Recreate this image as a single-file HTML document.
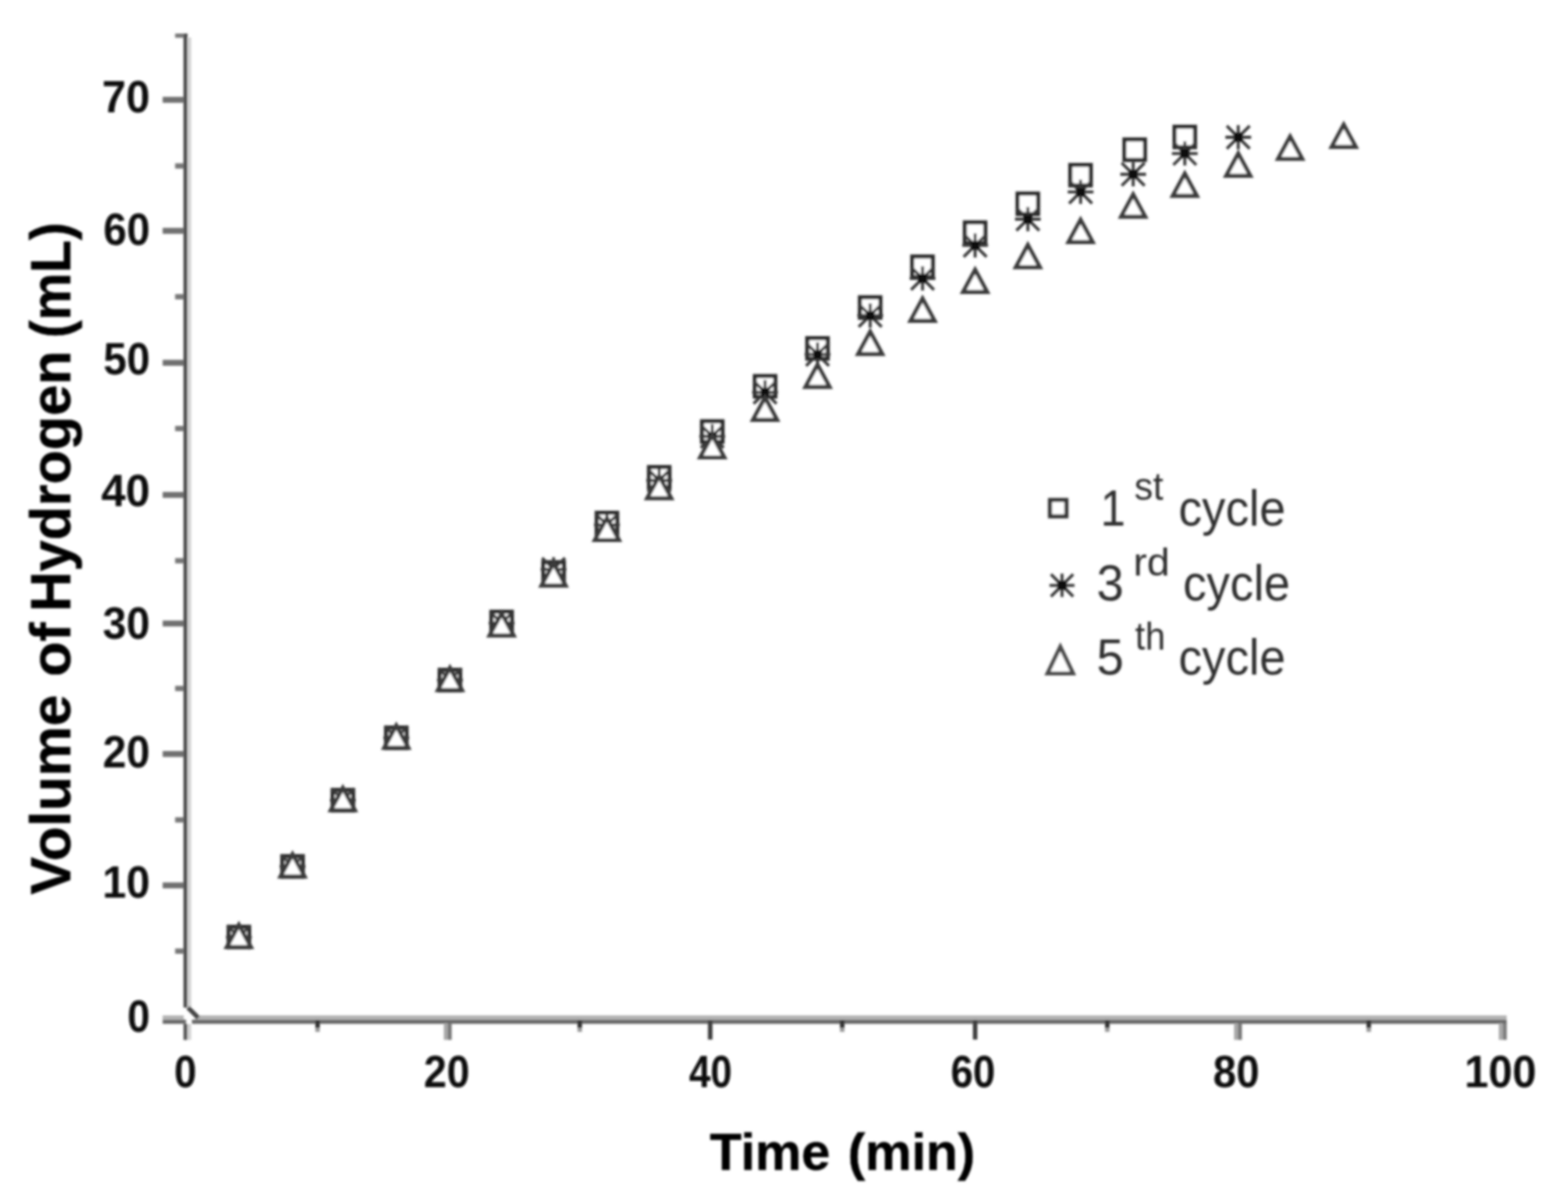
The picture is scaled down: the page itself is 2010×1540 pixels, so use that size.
<!DOCTYPE html>
<html lang="en"><head><meta charset="utf-8"><title>Volume of Hydrogen vs Time</title>
<style>
html,body{margin:0;padding:0;background:#fff;}
body{width:2010px;height:1540px;overflow:hidden;}
svg{display:block;}
text{font-family:"Liberation Sans",Arial,Helvetica,sans-serif;}
#ticklabels text{fill:#0a0a0a;}
#titles text{fill:#000;stroke:#000;stroke-width:0.5px;}
#legend text{fill:#2e2e2e;}
</style></head><body>
<svg width="2010" height="1540" viewBox="0 0 2010 1540" role="img" aria-label="Volume of Hydrogen (mL) versus Time (min) for the 1st, 3rd and 5th cycle">
<defs><filter id="soft" x="0" y="0" width="2010" height="1540" filterUnits="userSpaceOnUse"><feGaussianBlur stdDeviation="1.7"/></filter></defs>
<rect width="2010" height="1540" fill="#fff"/>
<g filter="url(#soft)">
<g id="axes">
<rect x="235.2" y="43" width="5.2" height="1249" fill="#4a4a4a"/>
<rect x="240.4" y="48" width="4.8" height="1244" fill="#d4d4d4"/>
<rect x="235.2" y="1313" width="5.2" height="20.5" fill="#555"/>
<rect x="240.4" y="1313" width="4.8" height="20.5" fill="#d4d4d4"/>
<rect x="250" y="1302" width="1681.4" height="5.5" fill="#b2b2b2"/>
<rect x="246" y="1307.5" width="1685.4" height="5.3" fill="#686868"/>
<rect x="208.5" y="1302" width="27" height="5.5" fill="#b2b2b2"/>
<rect x="208.5" y="1307.5" width="30" height="5.3" fill="#686868"/>
<path d="M241 1292L254 1305" stroke="#444" stroke-width="6" fill="none"/>
<rect x="224.5" y="43" width="11" height="5.4" fill="#777"/>
<rect x="208.5" y="124.2" width="27" height="7.6" fill="#707070"/>
<rect x="224.5" y="209.4" width="11" height="6.8" fill="#777"/>
<rect x="208.5" y="292.2" width="27" height="7.6" fill="#707070"/>
<rect x="224.5" y="377.1" width="11" height="6.8" fill="#777"/>
<rect x="208.5" y="461.4" width="27" height="7.6" fill="#707070"/>
<rect x="224.5" y="546.1" width="11" height="6.8" fill="#777"/>
<rect x="208.5" y="630.8" width="27" height="7.6" fill="#707070"/>
<rect x="224.5" y="715.6" width="11" height="6.8" fill="#777"/>
<rect x="208.5" y="795.7" width="27" height="7.6" fill="#707070"/>
<rect x="224.5" y="879.4" width="11" height="6.8" fill="#777"/>
<rect x="208.5" y="963.0" width="27" height="7.6" fill="#707070"/>
<rect x="224.5" y="1047.9" width="11" height="6.8" fill="#777"/>
<rect x="208.5" y="1131.5" width="27" height="7.6" fill="#707070"/>
<rect x="224.5" y="1216.2" width="11" height="6.8" fill="#777"/>
<rect x="404.2" y="1308" width="5.8" height="10.4" fill="#303030"/>
<rect x="404.2" y="1318.4" width="5.8" height="4.8" fill="#999"/>
<rect x="568.9" y="1312" width="5.1" height="21.4" fill="#a8a8a8"/>
<rect x="574.0" y="1312" width="5.1" height="21.4" fill="#7a7a7a"/>
<rect x="740.3" y="1308" width="5.8" height="10.4" fill="#303030"/>
<rect x="740.3" y="1318.4" width="5.8" height="4.8" fill="#999"/>
<rect x="907.5" y="1308" width="5.8" height="25" fill="#3c3c3c"/>
<rect x="1076.7" y="1308" width="5.8" height="10.4" fill="#303030"/>
<rect x="1076.7" y="1318.4" width="5.8" height="4.8" fill="#999"/>
<rect x="1247.1" y="1308" width="5.8" height="25" fill="#3c3c3c"/>
<rect x="1416.5" y="1308" width="5.8" height="10.4" fill="#303030"/>
<rect x="1416.5" y="1318.4" width="5.8" height="4.8" fill="#999"/>
<rect x="1581.9" y="1312" width="5.1" height="21.4" fill="#a8a8a8"/>
<rect x="1587.0" y="1312" width="5.1" height="21.4" fill="#7a7a7a"/>
<rect x="1751.7" y="1308" width="5.8" height="10.4" fill="#303030"/>
<rect x="1751.7" y="1318.4" width="5.8" height="4.8" fill="#999"/>
<rect x="1921.3" y="1312" width="5.1" height="21.4" fill="#a8a8a8"/>
<rect x="1926.4" y="1312" width="5.1" height="21.4" fill="#7a7a7a"/>
</g>
<g id="ticklabels">
<text transform="translate(130.84 144.40) scale(0.9213 0.9600)" font-size="60" font-weight="bold">70</text>
<text transform="translate(132.61 314.20) scale(0.8935 0.9600)" font-size="60" font-weight="bold">60</text>
<text transform="translate(132.61 479.60) scale(0.8935 0.9600)" font-size="60" font-weight="bold">50</text>
<text transform="translate(129.66 649.00) scale(0.9397 0.9600)" font-size="60" font-weight="bold">40</text>
<text transform="translate(131.79 819.00) scale(0.9065 0.9600)" font-size="60" font-weight="bold">30</text>
<text transform="translate(131.79 984.40) scale(0.9065 0.9600)" font-size="60" font-weight="bold">20</text>
<text transform="translate(131.13 1151.00) scale(0.9167 0.9600)" font-size="60" font-weight="bold">10</text>
<text transform="translate(163.26 1323.40) scale(0.8690 0.9600)" font-size="60" font-weight="bold">0</text>
<text transform="translate(223.18 1394.00) scale(0.8621 0.9500)" font-size="60" font-weight="bold">0</text>
<text transform="translate(543.34 1394.00) scale(0.8806 0.9500)" font-size="60" font-weight="bold">20</text>
<text transform="translate(883.17 1394.00) scale(0.8286 0.9500)" font-size="60" font-weight="bold">40</text>
<text transform="translate(1218.79 1394.00) scale(0.8565 0.9500)" font-size="60" font-weight="bold">60</text>
<text transform="translate(1555.02 1394.00) scale(0.8903 0.9500)" font-size="60" font-weight="bold">80</text>
<text transform="translate(1877.31 1394.00) scale(0.9213 0.9500)" font-size="60" font-weight="bold">100</text>
</g>
<g id="titles">
<text transform="translate(910.02 1500.00) scale(0.9805 0.9700)" font-size="68" font-weight="bold">Time</text>
<text transform="translate(1086.65 1500.00) scale(0.9838 0.9700)" font-size="68" font-weight="bold">(min)</text>
<text transform="translate(89.90 1147.21) rotate(-90) scale(1.0076 1.0000)" font-size="72" font-weight="bold">Volume</text>
<text transform="translate(89.90 867.87) rotate(-90) scale(1.0246 1.0000)" font-size="72" font-weight="bold">of</text>
<text transform="translate(89.90 784.48) rotate(-90) scale(0.9969 1.0000)" font-size="72" font-weight="bold">Hydrogen</text>
<text transform="translate(89.90 433.61) rotate(-90) scale(0.9527 1.0000)" font-size="72" font-weight="bold">(mL)</text>
</g>
<g id="series-1st-cycle">
<rect x="293.1" y="1188.4" width="26.3" height="26.3" fill="#fff" stroke="#2a2a2a" stroke-width="5.2"/>
<rect x="361.9" y="1097.8" width="26.3" height="26.3" fill="#fff" stroke="#2a2a2a" stroke-width="5.2"/>
<rect x="426.4" y="1012.9" width="26.3" height="26.3" fill="#fff" stroke="#2a2a2a" stroke-width="5.2"/>
<rect x="494.9" y="932.9" width="26.3" height="26.3" fill="#fff" stroke="#2a2a2a" stroke-width="5.2"/>
<rect x="563.6" y="858.9" width="26.3" height="26.3" fill="#fff" stroke="#2a2a2a" stroke-width="5.2"/>
<rect x="629.9" y="784.4" width="26.3" height="26.3" fill="#fff" stroke="#2a2a2a" stroke-width="5.2"/>
<rect x="696.5" y="720.9" width="26.3" height="26.3" fill="#fff" stroke="#2a2a2a" stroke-width="5.2"/>
<rect x="764.9" y="657.5" width="26.3" height="26.3" fill="#fff" stroke="#2a2a2a" stroke-width="5.2"/>
<rect x="831.9" y="598.9" width="26.3" height="26.3" fill="#fff" stroke="#2a2a2a" stroke-width="5.2"/>
<rect x="899.9" y="540.2" width="26.3" height="26.3" fill="#fff" stroke="#2a2a2a" stroke-width="5.2"/>
<rect x="967.6" y="482.2" width="26.3" height="26.3" fill="#fff" stroke="#2a2a2a" stroke-width="5.2"/>
<rect x="1034.8" y="433.6" width="26.3" height="26.3" fill="#fff" stroke="#2a2a2a" stroke-width="5.2"/>
<rect x="1102.3" y="381.2" width="26.3" height="26.3" fill="#fff" stroke="#2a2a2a" stroke-width="5.2"/>
<rect x="1169.4" y="328.9" width="26.3" height="26.3" fill="#fff" stroke="#2a2a2a" stroke-width="5.2"/>
<rect x="1236.8" y="285.2" width="26.3" height="26.3" fill="#fff" stroke="#2a2a2a" stroke-width="5.2"/>
<rect x="1304.4" y="248.2" width="26.3" height="26.3" fill="#fff" stroke="#2a2a2a" stroke-width="5.2"/>
<rect x="1372.0" y="211.5" width="26.3" height="26.3" fill="#fff" stroke="#2a2a2a" stroke-width="5.2"/>
<rect x="1441.4" y="178.8" width="26.3" height="26.3" fill="#fff" stroke="#2a2a2a" stroke-width="5.2"/>
<rect x="1505.6" y="162.5" width="26.3" height="26.3" fill="#fff" stroke="#2a2a2a" stroke-width="5.2"/>
</g>
<g id="series-3rd-cycle">
<g stroke="#383838" stroke-width="3.8" fill="none"><path d="M306.2 1186.1V1217.1M289.7 1201.6H322.7M291.5 1186.9L320.9 1216.3M291.5 1216.3L320.9 1186.9"/><rect x="300.7" y="1196.1" width="11" height="11" fill="#0c0c0c" stroke="none"/></g>
<g stroke="#383838" stroke-width="3.8" fill="none"><path d="M375.0 1095.5V1126.5M358.5 1111.0H391.5M360.3 1096.3L389.7 1125.7M360.3 1125.7L389.7 1096.3"/><rect x="369.5" y="1105.5" width="11" height="11" fill="#0c0c0c" stroke="none"/></g>
<g stroke="#383838" stroke-width="3.8" fill="none"><path d="M439.5 1010.5V1041.5M423.0 1026.0H456.0M424.8 1011.3L454.2 1040.7M424.8 1040.7L454.2 1011.3"/><rect x="434.0" y="1020.5" width="11" height="11" fill="#0c0c0c" stroke="none"/></g>
<g stroke="#383838" stroke-width="3.8" fill="none"><path d="M508.0 930.5V961.5M491.5 946.0H524.5M493.3 931.3L522.7 960.7M493.3 960.7L522.7 931.3"/><rect x="502.5" y="940.5" width="11" height="11" fill="#0c0c0c" stroke="none"/></g>
<g stroke="#383838" stroke-width="3.8" fill="none"><path d="M576.8 856.5V887.5M560.3 872.0H593.3M562.1 857.3L591.5 886.7M562.1 886.7L591.5 857.3"/><rect x="571.3" y="866.5" width="11" height="11" fill="#0c0c0c" stroke="none"/></g>
<g stroke="#383838" stroke-width="3.8" fill="none"><path d="M643.0 783.5V814.5M626.5 799.0H659.5M628.3 784.3L657.7 813.7M628.3 813.7L657.7 784.3"/><rect x="637.5" y="793.5" width="11" height="11" fill="#0c0c0c" stroke="none"/></g>
<g stroke="#383838" stroke-width="3.8" fill="none"><path d="M709.6 714.5V745.5M693.1 730.0H726.1M694.9 715.3L724.3 744.7M694.9 744.7L724.3 715.3"/><rect x="704.1" y="724.5" width="11" height="11" fill="#0c0c0c" stroke="none"/></g>
<g stroke="#383838" stroke-width="3.8" fill="none"><path d="M778.0 657.5V688.5M761.5 673.0H794.5M763.3 658.3L792.7 687.7M763.3 687.7L792.7 658.3"/><rect x="772.5" y="667.5" width="11" height="11" fill="#0c0c0c" stroke="none"/></g>
<g stroke="#383838" stroke-width="3.8" fill="none"><path d="M845.0 600.5V631.5M828.5 616.0H861.5M830.3 601.3L859.7 630.7M830.3 630.7L859.7 601.3"/><rect x="839.5" y="610.5" width="11" height="11" fill="#0c0c0c" stroke="none"/></g>
<g stroke="#383838" stroke-width="3.8" fill="none"><path d="M913.0 544.0V575.0M896.5 559.5H929.5M898.3 544.8L927.7 574.2M898.3 574.2L927.7 544.8"/><rect x="907.5" y="554.0" width="11" height="11" fill="#0c0c0c" stroke="none"/></g>
<g stroke="#383838" stroke-width="3.8" fill="none"><path d="M980.7 487.5V518.5M964.2 503.0H997.2M966.0 488.3L995.4 517.7M966.0 517.7L995.4 488.3"/><rect x="975.2" y="497.5" width="11" height="11" fill="#0c0c0c" stroke="none"/></g>
<g stroke="#383838" stroke-width="3.8" fill="none"><path d="M1048.0 438.9V469.9M1031.5 454.4H1064.5M1033.3 439.7L1062.7 469.1M1033.3 469.1L1062.7 439.7"/><rect x="1042.5" y="448.9" width="11" height="11" fill="#0c0c0c" stroke="none"/></g>
<g stroke="#383838" stroke-width="3.8" fill="none"><path d="M1115.5 389.0V420.0M1099.0 404.5H1132.0M1100.8 389.8L1130.2 419.2M1100.8 419.2L1130.2 389.8"/><rect x="1110.0" y="399.0" width="11" height="11" fill="#0c0c0c" stroke="none"/></g>
<g stroke="#383838" stroke-width="3.8" fill="none"><path d="M1182.6 341.5V372.5M1166.1 357.0H1199.1M1167.9 342.3L1197.3 371.7M1167.9 371.7L1197.3 342.3"/><rect x="1177.1" y="351.5" width="11" height="11" fill="#0c0c0c" stroke="none"/></g>
<g stroke="#383838" stroke-width="3.8" fill="none"><path d="M1250.0 299.2V330.2M1233.5 314.7H1266.5M1235.3 300.0L1264.7 329.4M1235.3 329.4L1264.7 300.0"/><rect x="1244.5" y="309.2" width="11" height="11" fill="#0c0c0c" stroke="none"/></g>
<g stroke="#383838" stroke-width="3.8" fill="none"><path d="M1317.6 265.5V296.5M1301.1 281.0H1334.1M1302.9 266.3L1332.3 295.7M1302.9 295.7L1332.3 266.3"/><rect x="1312.1" y="275.5" width="11" height="11" fill="#0c0c0c" stroke="none"/></g>
<g stroke="#383838" stroke-width="3.8" fill="none"><path d="M1385.2 230.6V261.6M1368.7 246.1H1401.7M1370.5 231.4L1399.9 260.8M1370.5 260.8L1399.9 231.4"/><rect x="1379.7" y="240.6" width="11" height="11" fill="#0c0c0c" stroke="none"/></g>
<g stroke="#383838" stroke-width="3.8" fill="none"><path d="M1452.6 208.0V239.0M1436.1 223.5H1469.1M1437.9 208.8L1467.3 238.2M1437.9 238.2L1467.3 208.8"/><rect x="1447.1" y="218.0" width="11" height="11" fill="#0c0c0c" stroke="none"/></g>
<g stroke="#383838" stroke-width="3.8" fill="none"><path d="M1518.8 181.3V212.3M1502.3 196.8H1535.3M1504.1 182.1L1533.5 211.5M1504.1 211.5L1533.5 182.1"/><rect x="1513.3" y="191.3" width="11" height="11" fill="#0c0c0c" stroke="none"/></g>
<g stroke="#383838" stroke-width="3.8" fill="none"><path d="M1587.3 160.5V191.5M1570.8 176.0H1603.8M1572.6 161.3L1602.0 190.7M1572.6 190.7L1602.0 161.3"/><rect x="1581.8" y="170.5" width="11" height="11" fill="#0c0c0c" stroke="none"/></g>
</g>
<g id="series-5th-cycle">
<path d="M306.2 1186.0L321.6 1214.4H290.8Z" fill="#fff" stroke="#3a3a3a" stroke-width="5.2" stroke-linejoin="miter"/>
<path d="M375.0 1095.4L390.4 1123.8H359.6Z" fill="#fff" stroke="#3a3a3a" stroke-width="5.2" stroke-linejoin="miter"/>
<path d="M439.5 1010.4L454.9 1038.8H424.1Z" fill="#fff" stroke="#3a3a3a" stroke-width="5.2" stroke-linejoin="miter"/>
<path d="M508.0 930.4L523.4 958.8H492.6Z" fill="#fff" stroke="#3a3a3a" stroke-width="5.2" stroke-linejoin="miter"/>
<path d="M576.8 856.4L592.2 884.8H561.4Z" fill="#fff" stroke="#3a3a3a" stroke-width="5.2" stroke-linejoin="miter"/>
<path d="M643.0 786.4L658.4 814.8H627.6Z" fill="#fff" stroke="#3a3a3a" stroke-width="5.2" stroke-linejoin="miter"/>
<path d="M709.6 722.4L725.0 750.8H694.2Z" fill="#fff" stroke="#3a3a3a" stroke-width="5.2" stroke-linejoin="miter"/>
<path d="M778.0 664.1L793.4 692.5H762.6Z" fill="#fff" stroke="#3a3a3a" stroke-width="5.2" stroke-linejoin="miter"/>
<path d="M845.0 610.4L860.4 638.8H829.6Z" fill="#fff" stroke="#3a3a3a" stroke-width="5.2" stroke-linejoin="miter"/>
<path d="M913.0 558.1L928.4 586.5H897.6Z" fill="#fff" stroke="#3a3a3a" stroke-width="5.2" stroke-linejoin="miter"/>
<path d="M980.7 510.0L996.1 538.4H965.3Z" fill="#fff" stroke="#3a3a3a" stroke-width="5.2" stroke-linejoin="miter"/>
<path d="M1048.0 467.7L1063.4 496.1H1032.6Z" fill="#fff" stroke="#3a3a3a" stroke-width="5.2" stroke-linejoin="miter"/>
<path d="M1115.5 425.4L1130.9 453.8H1100.1Z" fill="#fff" stroke="#3a3a3a" stroke-width="5.2" stroke-linejoin="miter"/>
<path d="M1182.6 382.9L1198.0 411.3H1167.2Z" fill="#fff" stroke="#3a3a3a" stroke-width="5.2" stroke-linejoin="miter"/>
<path d="M1250.0 346.0L1265.4 374.4H1234.6Z" fill="#fff" stroke="#3a3a3a" stroke-width="5.2" stroke-linejoin="miter"/>
<path d="M1317.6 314.3L1333.0 342.7H1302.2Z" fill="#fff" stroke="#3a3a3a" stroke-width="5.2" stroke-linejoin="miter"/>
<path d="M1385.2 281.9L1400.6 310.3H1369.8Z" fill="#fff" stroke="#3a3a3a" stroke-width="5.2" stroke-linejoin="miter"/>
<path d="M1452.6 249.4L1468.0 277.8H1437.2Z" fill="#fff" stroke="#3a3a3a" stroke-width="5.2" stroke-linejoin="miter"/>
<path d="M1518.8 222.8L1534.2 251.2H1503.4Z" fill="#fff" stroke="#3a3a3a" stroke-width="5.2" stroke-linejoin="miter"/>
<path d="M1587.3 196.9L1602.7 225.3H1571.9Z" fill="#fff" stroke="#3a3a3a" stroke-width="5.2" stroke-linejoin="miter"/>
<path d="M1653.8 175.2L1669.2 203.6H1638.4Z" fill="#fff" stroke="#3a3a3a" stroke-width="5.2" stroke-linejoin="miter"/>
<path d="M1722.5 159.9L1737.9 188.3H1707.1Z" fill="#fff" stroke="#3a3a3a" stroke-width="5.2" stroke-linejoin="miter"/>
</g>
<g id="legend">
<rect x="1346.0" y="641.1" width="21" height="21" fill="#fff" stroke="#363636" stroke-width="5.2"/>
<g stroke="#383838" stroke-width="3.8" fill="none"><path d="M1361.4 735.6V765.6M1345.4 750.6H1377.4M1347.2 736.4L1375.7 764.9M1347.2 764.9L1375.7 736.4"/><rect x="1355.9" y="745.1" width="11" height="11" fill="#0c0c0c" stroke="none"/></g>
<path d="M1359.2 829.4L1375.6 863.6H1342.8Z" fill="#fff" stroke="#484848" stroke-width="5.0" stroke-linejoin="miter"/>
<text transform="translate(1410.64 673.60) scale(0.8714 0.9900)" font-size="66" font-weight="normal">1</text>
<text transform="translate(1454.00 641.40) scale(1.0000 1.0400)" font-size="48" font-weight="normal">st</text>
<text transform="translate(1510.66 673.60) scale(0.9139 0.9850)" font-size="66" font-weight="normal">cycle</text>
<text transform="translate(1405.75 770.00) scale(0.9484 0.9900)" font-size="66" font-weight="normal">3</text>
<text transform="translate(1452.71 737.80) scale(1.0973 1.0400)" font-size="48" font-weight="normal">rd</text>
<text transform="translate(1516.46 770.00) scale(0.9139 0.9850)" font-size="66" font-weight="normal">cycle</text>
<text transform="translate(1405.75 864.60) scale(0.9484 0.9900)" font-size="66" font-weight="normal">5</text>
<text transform="translate(1455.03 833.20) scale(0.9722 1.0400)" font-size="48" font-weight="normal">th</text>
<text transform="translate(1510.66 864.60) scale(0.9139 0.9850)" font-size="66" font-weight="normal">cycle</text>
</g>
</g>
</svg>
</body></html>
